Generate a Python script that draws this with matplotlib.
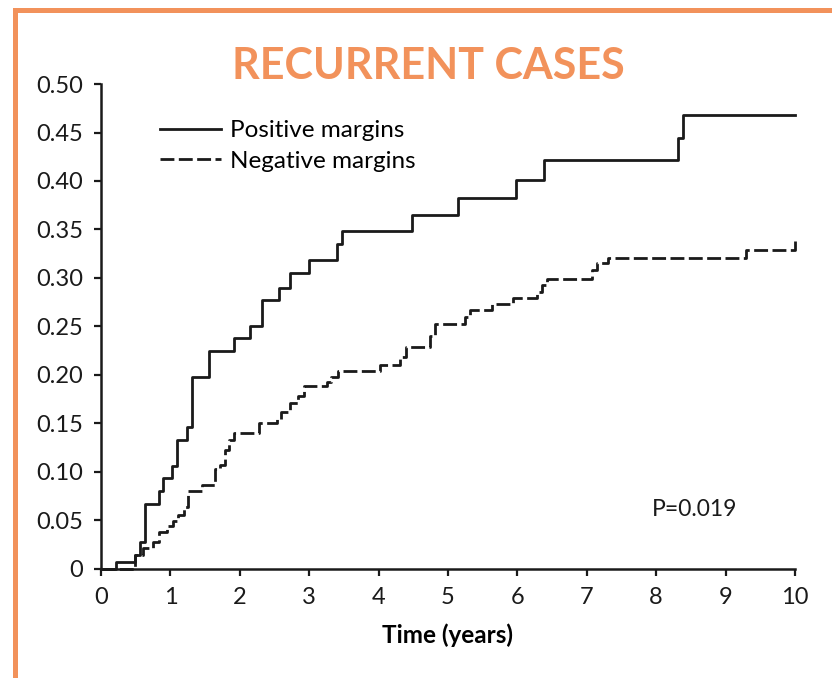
import matplotlib
matplotlib.use('Agg')
import matplotlib.pyplot as plt
from matplotlib.lines import Line2D

plt.rcParams['font.family'] = ['Lato', 'DejaVu Sans']

# Cumulative incidence of recurrence
pos_time = [0, 0.22, 0.49, 0.56, 0.64, 0.83, 0.90, 1.02, 1.09, 1.24, 1.31, 1.55,
            1.91, 2.15, 2.32, 2.56, 2.72, 2.99, 3.40, 3.47, 4.48, 5.15, 5.98, 6.38,
            8.31, 8.39, 10.0]
pos_value = [0, 0.007, 0.014, 0.028, 0.067, 0.080, 0.094, 0.106, 0.133, 0.146, 0.198,
             0.225, 0.238, 0.251, 0.277, 0.290, 0.305, 0.319, 0.335, 0.348, 0.365,
             0.382, 0.401, 0.422, 0.444, 0.468, 0.468]

neg_time = [0, 0.49, 0.60, 0.75, 0.83, 0.95, 1.04, 1.11, 1.19, 1.25, 1.45, 1.64,
            1.72, 1.79, 1.84, 1.91, 2.27, 2.53, 2.60, 2.72, 2.84, 2.92, 3.25, 3.32,
            3.42, 4.02, 4.31, 4.40, 4.74, 4.81, 5.24, 5.32, 5.63, 5.94, 6.28, 6.35,
            6.42, 7.07, 7.14, 7.31, 9.30, 10.0]
neg_value = [0, 0.014, 0.022, 0.028, 0.038, 0.044, 0.049, 0.056, 0.064, 0.080, 0.087,
             0.103, 0.107, 0.123, 0.133, 0.140, 0.150, 0.155, 0.162, 0.171, 0.178,
             0.189, 0.193, 0.198, 0.204, 0.210, 0.219, 0.229, 0.240, 0.253, 0.260,
             0.267, 0.273, 0.279, 0.286, 0.293, 0.299, 0.308, 0.315, 0.321, 0.329,
             0.338]

x_ticks = list(range(0, 11))
y_ticks = [0, 0.05, 0.10, 0.15, 0.20, 0.25, 0.30, 0.35, 0.40, 0.45, 0.50]
y_tick_labels = ['0', '0.05', '0.10', '0.15', '0.20', '0.25', '0.30', '0.35',
                 '0.40', '0.45', '0.50']

orange = '#F2925B'
ink = '#1a1a1a'

fig = plt.figure(figsize=(8.32, 6.78), dpi=100)
ax = fig.add_axes([0.1214, 0.1608, 0.8341, 0.7153])

ax.step(pos_time, pos_value, where='post', color=ink, lw=2.0,
        label='Positive margins', clip_on=False)
ax.step(neg_time, neg_value, where='post', color=ink, lw=2.0,
        dashes=(5, 1.6), label='Negative margins', clip_on=False)

ax.set_xlim(0, 10)
ax.set_ylim(0, 0.5)
ax.set_xticks(x_ticks)
ax.set_yticks(y_ticks)
ax.set_yticklabels(y_tick_labels)
ax.tick_params(labelsize=17, length=5, width=1.6, pad=8, colors=ink)

for side in ['top', 'right']:
    ax.spines[side].set_visible(False)
for side in ['left', 'bottom']:
    ax.spines[side].set_linewidth(1.8)
    ax.spines[side].set_color(ink)

ax.set_xlabel('Time (years)', fontsize=17.5, fontweight='bold', labelpad=11)

leg = ax.legend(loc='upper left', bbox_to_anchor=(0.085, 0.925), frameon=False,
                fontsize=17.5, handlelength=2.5, handletextpad=0.4,
                labelspacing=0.38, borderpad=0, borderaxespad=0)

ax.text(7.94, 0.0613, 'P=0.019', fontsize=16.5, va='center', ha='left', color=ink)

fig.text(0.515, 0.903, 'RECURRENT CASES', color=orange, fontsize=31,
         fontweight='bold', ha='center', va='center')

# orange frame along left and top edges
fig.add_artist(Line2D([15 / 832, 15 / 832], [0, 1 - 10 / 678], color=orange,
                      lw=3.6, transform=fig.transFigure, solid_capstyle='projecting'))
fig.add_artist(Line2D([15 / 832, 1], [1 - 10 / 678, 1 - 10 / 678], color=orange,
                      lw=3.6, transform=fig.transFigure, solid_capstyle='projecting'))

fig.savefig('out.png', dpi=100)
